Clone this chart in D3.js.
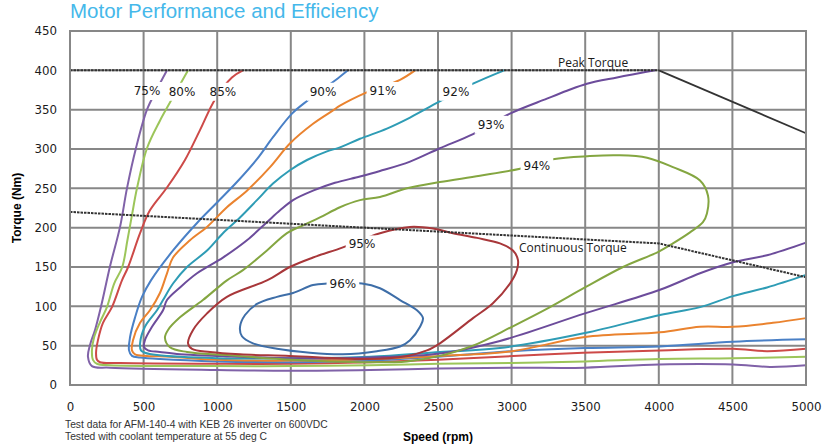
<!DOCTYPE html>
<html>
<head>
<meta charset="utf-8">
<script src="https://cdn.jsdelivr.net/npm/d3@7"></script>
<style>
  body { margin: 0; background: #fff; }
  text { font-family: "DejaVu Sans", sans-serif; }
</style>
</head>
<body>
<svg id="chart" width="832" height="445"></svg>
<script>
// ---- data (speed rpm, torque Nm) ----
const speedTicks = [0, 500, 1000, 1500, 2000, 2500, 3000, 3500, 4000, 4500, 5000]
const torqueTicks = [0, 50, 100, 150, 200, 250, 300, 350, 400, 450]

const levels = ["75%", "80%", "85%", "90%", "91%", "92%", "93%", "94%", "95%", "96%"]
const closedLevels = ["94%", "95%", "96%"]

const eff75 = [[659,400],[591,376],[523,350],[448,301],[387,250],[340,201],[272,151],[211,100],[170,70],[136,51],[122,36],[149,24],[272,22],[999,19],[1494,18],[2038,19],[2500,21],[3000,22],[3498,22],[4000,26],[4504,26],[4755,23],[5000,25]]
const eff80 = [[802,400],[679,359],[611,336],[523,301],[455,250],[421,216],[390,184],[355,150],[300,129],[251,99],[204,80],[163,60],[149,44],[156,32],[183,27],[272,25],[999,24],[1494,24],[2038,25],[2500,27],[3000,28],[3498,30],[4008,33],[4504,34],[5000,36]]
const eff85 = [[1175,400],[1100,391],[985,363],[883,324],[781,286],[659,251],[543,222],[476,193],[395,150],[353,133],[285,99],[224,79],[190,57],[177,41],[183,32],[204,29],[340,28],[999,27],[1494,27],[2038,29],[2500,32],[2921,36],[3485,41],[4008,44],[4504,46],[4735,43],[5000,46]]
const eff90 = [[1888,400],[1821,390],[1617,362],[1508,345],[1379,315],[1270,287],[1134,258],[999,232],[863,206],[700,171],[550,133],[489,112],[442,86],[408,61],[401,44],[421,37],[476,35],[611,33],[999,30],[1494,29],[2038,31],[2500,36],[3000,43],[3498,47],[4008,49],[4504,55],[5000,58]]
const eff91 = [[2344,400],[2242,388],[2004,371],[1834,355],[1787,349],[1651,332],[1494,307],[1359,277],[1202,247],[1066,226],[931,201],[815,184],[700,162],[659,142],[611,117],[543,95],[476,79],[428,57],[421,44],[442,39],[523,37],[679,36],[999,32],[1494,31],[2038,33],[2513,37],[3002,43],[3498,61],[4008,67],[4280,74],[4504,74],[4775,79],[5000,85]]
const eff92 = [[2950,400],[2738,383],[2527,362],[2310,340],[2153,326],[1970,313],[1834,302],[1746,297],[1610,286],[1494,273],[1379,256],[1270,235],[1155,213],[1039,193],[931,171],[795,150],[700,129],[632,108],[591,95],[509,74],[476,53],[482,44],[509,41],[591,38],[999,34],[1494,34],[2038,36],[2513,42],[2921,47],[3498,66],[4008,89],[4280,99],[4504,113],[4735,124],[5000,140]]
const eff93 = [[3974,400],[3716,391],[3512,383],[3376,374],[3240,364],[2989,345],[2738,319],[2513,301],[2310,284],[2106,272],[1970,265],[1800,257],[1651,247],[1515,235],[1427,222],[1338,207],[1202,184],[1039,162],[863,142],[747,124],[659,108],[632,95],[557,74],[509,57],[503,48],[530,44],[611,42],[747,39],[999,37],[1494,34],[2038,35],[2513,40],[2921,56],[3498,91],[4008,121],[4280,142],[4504,156],[4735,165],[5000,181]]
const eff94 = [[3281,287],[3532,291],[3716,292],[3920,289],[4096,277],[4280,260],[4334,241],[4327,218],[4300,207],[4212,194],[4096,180],[3994,169],[3757,150],[3498,124],[3261,99],[3002,74],[2738,50],[2513,37],[2289,30],[1970,29],[1515,32],[1066,38],[795,42],[679,48],[645,60],[666,70],[747,86],[903,108],[1066,133],[1175,146],[1338,171],[1474,193],[1583,203],[1698,213],[1834,226],[1970,235],[2106,239],[2289,250],[2513,258],[2785,266],[3057,275]]
const eff95 = [[2106,193],[2310,201],[2466,199],[2602,193],[2765,187],[2921,180],[3009,171],[3043,159],[3036,146],[2989,129],[2873,104],[2738,85],[2513,53],[2425,44],[2289,37],[2018,33],[1494,37],[1155,39],[951,42],[829,46],[802,53],[836,70],[931,91],[1066,112],[1338,133],[1494,150],[1651,162],[1854,175]]
const eff96 = [[1984,129],[2106,123],[2242,108],[2357,95],[2398,85],[2378,74],[2310,57],[2242,49],[2085,43],[1854,39],[1630,41],[1406,46],[1243,53],[1168,62],[1155,74],[1189,89],[1270,103],[1406,112],[1515,117],[1651,127],[1746,129]]

const labelSpeed = [523, 761, 1039, 1719, 2126, 2622, 2860, 3172, 1984, 1854]
const labelTorque = [374, 373, 373, 373, 374, 373, 331, 279, 179, 129]

const peakSpeed = [0, 4000, 5000]
const peakTorque = [400, 400, 320]
const contSpeed = [0, 4000, 5000]
const contTorque = [220, 180, 137]

// ---- styles ----
const levelColors = ["#8062a8", "#9cc55a", "#cd4a48", "#4a80c6", "#ea832f", "#2e9cb5", "#6c4c9b", "#84a641", "#a8373a", "#3e6ea8"]
const gridColor = "#878787"

const curves = [eff75, eff80, eff85, eff90, eff91, eff92, eff93, eff94, eff95, eff96]

const svg = d3.select("#chart")
const x = d3.scaleLinear().domain([0, 5000]).range([70, 806])
const y = d3.scaleLinear().domain([0, 450]).range([385, 31])

// title
svg.append("text")
    .attr("x", 70)
    .attr("y", 18)
    .attr("fill", "#45b8ea")
    .style("font-family", "'Liberation Sans', sans-serif")
    .style("font-size", "20.5px")
    .text("Motor Performance and Efficiency")

// grid
svg.append("g")
    .selectAll("line")
    .data(speedTicks)
    .join("line")
    .attr("x1", d => x(d)).attr("x2", d => x(d))
    .attr("y1", y(0)).attr("y2", y(450))
    .attr("stroke", gridColor).attr("stroke-width", 2)

svg.append("g")
    .selectAll("line")
    .data(torqueTicks)
    .join("line")
    .attr("y1", d => y(d)).attr("y2", d => y(d))
    .attr("x1", x(0)).attr("x2", x(5000))
    .attr("stroke", gridColor).attr("stroke-width", 2)

// tick labels
let yAxis = svg.append("g")
    .attr("transform", "translate(" + x(0) + ",0)")
    .call(d3.axisLeft(y).tickValues(torqueTicks).tickSize(0).tickPadding(13).tickFormat(d3.format("d")))
yAxis.select(".domain").remove()
yAxis.selectAll("text").style("font-size", "11.8px").attr("fill", "#1a1a1a")

let xAxis = svg.append("g")
    .attr("transform", "translate(0," + y(0) + ")")
    .call(d3.axisBottom(x).tickValues(speedTicks).tickSize(0).tickPadding(18).tickFormat(d3.format("d")))
xAxis.select(".domain").remove()
xAxis.selectAll("text").style("font-size", "11.8px").attr("fill", "#1a1a1a")

// mask that cuts the curves where labels sit
const mask = svg.append("defs").append("mask")
    .attr("id", "gaps")
    .attr("maskUnits", "userSpaceOnUse")
    .attr("x", 0).attr("y", 0).attr("width", 832).attr("height", 445)
mask.append("rect").attr("x", 0).attr("y", 0).attr("width", 832).attr("height", 445).attr("fill", "white")

const line = d3.line().x(d => x(d[0])).y(d => y(d[1])).curve(d3.curveCatmullRom.alpha(0.5))
const loop = d3.line().x(d => x(d[0])).y(d => y(d[1])).curve(d3.curveCatmullRomClosed.alpha(0.5))

svg.append("g")
    .attr("mask", "url(#gaps)")
    .selectAll("path")
    .data(curves)
    .join("path")
    .attr("fill", "none")
    .attr("stroke", (d, i) => levelColors[i])
    .attr("stroke-width", 2)
    .attr("stroke-linejoin", "round")
    .attr("d", (d, i) => closedLevels.includes(levels[i]) ? loop(d) : line(d))

// torque limit lines
const lim = d3.line().x(d => x(d[0])).y(d => y(d[1]))
let peak = peakSpeed.map((s, i) => [s, peakTorque[i]])
let cont = contSpeed.map((s, i) => [s, contTorque[i]])

svg.append("path")
    .attr("d", lim(peak.slice(0, 2)))
    .attr("fill", "none").attr("stroke", "#333").attr("stroke-width", 2)
    .attr("stroke-dasharray", "2.5,1")
svg.append("path")
    .attr("d", lim(peak.slice(1)))
    .attr("fill", "none").attr("stroke", "#333").attr("stroke-width", 1.8)
svg.append("path")
    .attr("d", lim(cont))
    .attr("fill", "none").attr("stroke", "#333").attr("stroke-width", 2)
    .attr("stroke-dasharray", "2.5,1")

// efficiency labels
let labels = svg.append("g")
    .selectAll("text")
    .data(levels)
    .join("text")
    .attr("x", (d, i) => x(labelSpeed[i]))
    .attr("y", (d, i) => y(labelTorque[i]))
    .attr("dy", "0.35em")
    .attr("text-anchor", "middle")
    .attr("fill", "#1a1a1a")
    .style("font-size", "12px")
    .text(d => d)

labels.each(function () {
    let b = this.getBBox()
    mask.append("rect")
        .attr("x", b.x - 3).attr("y", b.y - 2)
        .attr("width", b.width + 6).attr("height", b.height + 4)
        .attr("fill", "black")
})

svg.append("text")
    .attr("x", x(3315)).attr("y", y(410)).attr("dy", "0.35em")
    .attr("fill", "#1a1a1a")
    .style("font-family", "'Open Sans', sans-serif").style("font-size", "12px")
    .text("Peak Torque")

svg.append("text")
    .attr("x", x(3050)).attr("y", y(174)).attr("dy", "0.35em")
    .attr("fill", "#1a1a1a")
    .style("font-family", "'Open Sans', sans-serif").style("font-size", "12px")
    .text("Continuous Torque")

// frame
svg.append("rect")
    .attr("x", x(0)).attr("y", y(450))
    .attr("width", x(5000) - x(0)).attr("height", y(0) - y(450))
    .attr("fill", "none").attr("stroke", gridColor).attr("stroke-width", 2)

// axis titles
svg.append("text")
    .attr("transform", "translate(21," + y(225) + ") rotate(-90)")
    .attr("text-anchor", "middle")
    .style("font-family", "'Liberation Sans', sans-serif")
    .style("font-size", "12px").style("font-weight", "bold")
    .text("Torque (Nm)")

svg.append("text")
    .attr("x", 438).attr("y", 441)
    .attr("text-anchor", "middle")
    .style("font-family", "'Liberation Sans', sans-serif")
    .style("font-size", "12px").style("font-weight", "bold")
    .text("Speed (rpm)")

// notes
svg.append("text")
    .attr("x", 65).attr("y", 428)
    .style("font-family", "'Liberation Sans', sans-serif").style("font-size", "10.3px")
    .attr("fill", "#333")
    .text("Test data for AFM-140-4 with KEB 26 inverter on 600VDC")
svg.append("text")
    .attr("x", 65).attr("y", 440)
    .style("font-family", "'Liberation Sans', sans-serif").style("font-size", "10.3px")
    .attr("fill", "#333")
    .text("Tested with coolant temperature at 55 deg C")
</script>
</body>
</html>
